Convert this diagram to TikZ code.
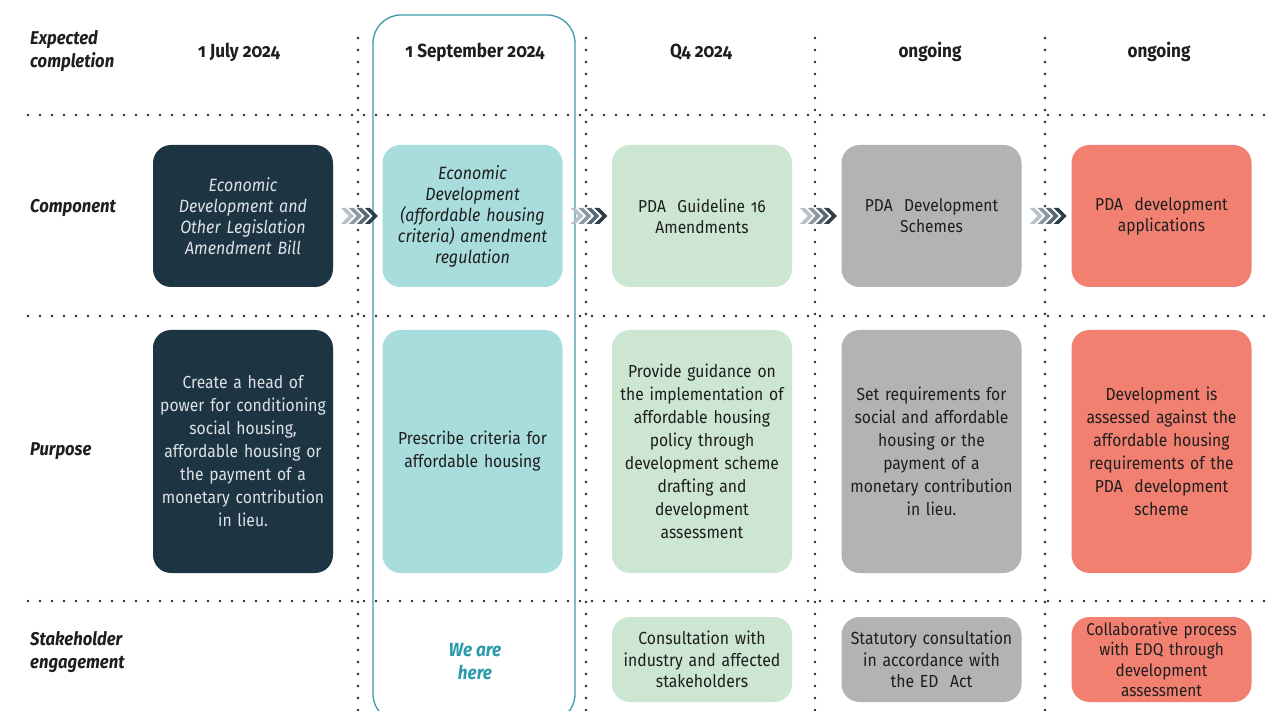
\documentclass[tikz,border=0pt]{standalone}
\usepackage{fontspec}
\setmainfont{Fira Sans}[FakeStretch=0.9,Numbers=OldStyle]
\usetikzlibrary{calc}
\definecolor{navy}{HTML}{1D3443}
\definecolor{tealbox}{HTML}{A9DCDC}
\definecolor{greenbox}{HTML}{CCE6D2}
\definecolor{greybox}{HTML}{B3B3B3}
\definecolor{salmon}{HTML}{F28071}
\definecolor{tealline}{HTML}{3D9AA6}
\definecolor{tealtext}{HTML}{2B9AAB}
\definecolor{txt}{HTML}{1E1E1E}
\definecolor{lighttxt}{HTML}{DDE2E5}
\definecolor{dotc}{HTML}{262626}
\definecolor{chA}{HTML}{B9C1C7}
\definecolor{chB}{HTML}{8C98A2}
\definecolor{chC}{HTML}{586874}
\definecolor{chD}{HTML}{2C3E4B}
\tikzset{
  box/.style={rounded corners=18pt, minimum width=180pt, align=center, text width=174pt,
    inner sep=0pt, text=txt},
  comp/.style={box, minimum height=142pt, font=\fontsize{17.3}{21}\selectfont},
  purp/.style={box, minimum height=243pt, font=\fontsize{17.4}{23}\selectfont},
  stake/.style={box, minimum height=85pt, font=\fontsize{17.5}{21.5}\selectfont},
  hdr/.style={font=\fontsize{19}{22}\selectfont\bfseries, text=txt},
  rowlbl/.style={font=\fontsize{18.5}{22.5}\selectfont\bfseries\itshape, anchor=west, align=left,
    text=txt, inner sep=0pt},
  dots/.style={line width=2.8pt, dash pattern=on 0pt off 12pt, line cap=round, draw=dotc},
  chev/.pic={
    \foreach \i/\c in {0/chA,1/chB,2/chC,3/chD}{
      \fill[\c] ({-17+\i*8},-8) -- ++(5,0) -- ++(8,8) -- ++(-8,8) -- ++(-5,0) -- ++(8,-8) -- cycle;
    }
  }
}
\begin{document}
\begin{tikzpicture}[x=1pt,y=-1pt]
\useasboundingbox (0,0) rectangle (1269,711);
\fill[white] (0,0) rectangle (1269,711);

% dotted grid
\foreach \yy in {115,316,601}{
  \draw[dots] (28,\yy) -- (1269,\yy);
}
\foreach \xx in {358,586,815,1045}{
  \draw[dots] (\xx,38) -- (\xx,711);
}

% highlight column
\begin{scope}
  \clip (0,0) rectangle (1269,711);
  \draw[tealline, line width=1.3pt, rounded corners=28pt] (373,15) rectangle (575,722);
\end{scope}

% headers
\node[rowlbl] (h0) at (30,51) {Expected\\completion};
\node[hdr] (h1) at (239,52) {1 July 2024};
\node[hdr] (h2) at (475,52) {1 September 2024};
\node[hdr] (h3) at (701,52) {Q4 2024};
\node[hdr] (h4) at (930,52) {ongoing};
\node[hdr] (h5) at (1159,52) {ongoing};

% row labels
\node[rowlbl] (l1) at (30,208) {Component};
\node[rowlbl] (l2) at (30,451) {Purpose};
\node[rowlbl] (l3) at (30,652) {Stakeholder\\engagement};

% component row
\node[comp, fill=navy, text=lighttxt, font=\fontsize{17.8}{21}\selectfont\itshape] (c1) at (243,216)
  {Economic\\Development and\\Other Legislation\\Amendment Bill};
\node[comp, fill=tealbox, font=\fontsize{17.8}{21}\selectfont\itshape] (c2) at (472.5,216)
  {Economic\\Development\\(affordable housing\\criteria) amendment\\regulation};
\node[comp, fill=greenbox] (c3) at (702,216) {PDA~ Guideline 16\\Amendments};
\node[comp, fill=greybox] (c4) at (931.5,216) {PDA~ Development\\Schemes};
\node[comp, fill=salmon] (c5) at (1161.5,216) {PDA~ development\\applications};

% purpose row
\node[purp, fill=navy, text=lighttxt] (p1) at (243,451.5)
  {Create a head of\\power for conditioning\\social housing,\\affordable housing or\\the payment of a\\monetary contribution\\in lieu.};
\node[purp, fill=tealbox] (p2) at (472.5,451.5)
  {Prescribe criteria for\\affordable housing};
\node[purp, fill=greenbox] (p3) at (702,451.5)
  {Provide guidance on\\the implementation of\\affordable housing\\policy through\\development scheme\\drafting and\\development\\assessment};
\node[purp, fill=greybox] (p4) at (931.5,451.5)
  {Set requirements for\\social and affordable\\housing or the\\payment of a\\monetary contribution\\in lieu.};
\node[purp, fill=salmon] (p5) at (1161.5,451.5)
  {Development is\\assessed against the\\affordable housing\\requirements of the\\PDA~ development\\scheme};

% stakeholder row
\node[font=\fontsize{19}{23}\selectfont\bfseries\itshape, text=tealtext, align=center] (here) at (475,662) {We are\\here};
\node[stake, fill=greenbox] (s3) at (702,659.5)
  {Consultation with\\industry and affected\\stakeholders};
\node[stake, fill=greybox] (s4) at (931.5,659.5)
  {Statutory consultation\\in accordance with\\the ED~ Act};
\node[stake, fill=salmon, font=\fontsize{17}{20.5}\selectfont] (s5) at (1161.5,659.5)
  {Collaborative process\\with EDQ through\\development\\assessment};

% chevron connectors
\coordinate (m1) at ($(c1.east)!0.5!(c2.west)$);
\coordinate (m2) at ($(c2.east)!0.5!(c3.west)$);
\coordinate (m3) at ($(c3.east)!0.5!(c4.west)$);
\coordinate (m4) at ($(c4.east)!0.5!(c5.west)$);
\foreach \m in {m1,m2,m3,m4}{ \pic at (\m) {chev}; }
\end{tikzpicture}
\end{document}
